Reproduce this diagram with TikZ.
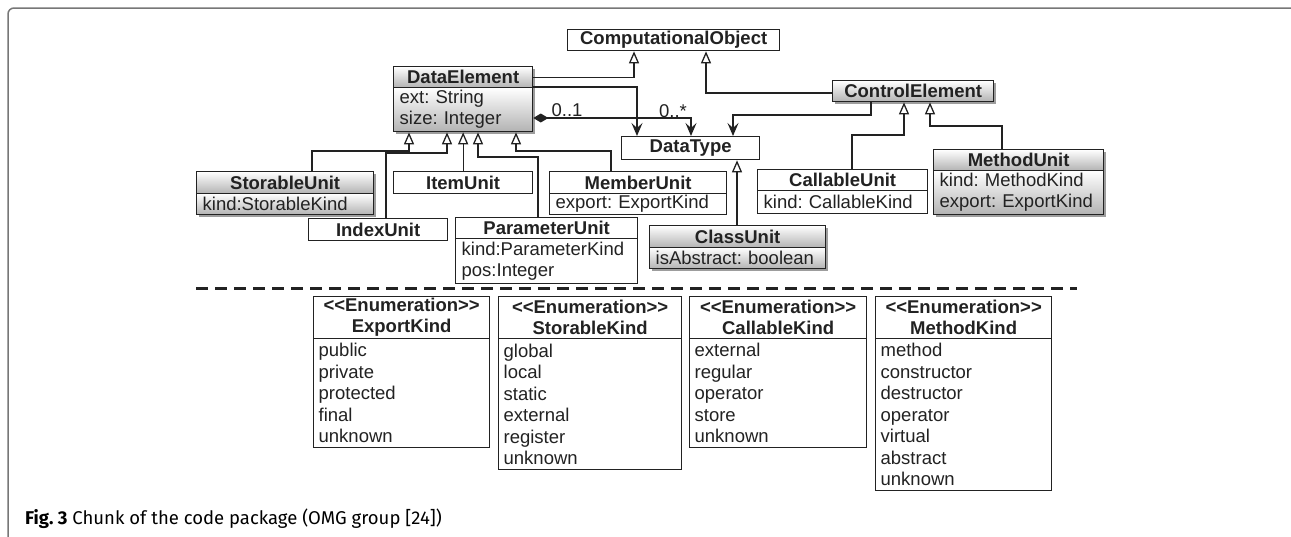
\documentclass[tikz,border=0pt]{standalone}
\usepackage{fontspec}
\setmainfont{Liberation Sans}
\newfontfamily\capfont{Fira Sans}
\usetikzlibrary{arrows.meta,shadows}
\definecolor{ln}{HTML}{222222}
\definecolor{frame}{HTML}{777777}
\frenchspacing
\begin{document}
\frenchspacing
\begin{tikzpicture}[x=1pt,y=-1pt,
  box/.style={draw=ln, line width=1.3pt, inner sep=0pt, anchor=north west, text=ln, fill=white},
  hd/.style={box, font=\bfseries\fontsize{18.5}{21}\selectfont, align=center},
  bd/.style={box, font=\fontsize{18.5}{21}\selectfont, align=left, inner xsep=6pt},
  en/.style={box, font=\fontsize{18.5}{21.5}\selectfont, align=left, inner xsep=5pt},
  grad/.style={top color=white, bottom color=black!30,
    drop shadow={shadow xshift=2pt, shadow yshift=-2pt, opacity=0.55, fill=black!70}},
  conn/.style={draw=ln, line width=1.3pt},
  inh/.style={conn, -{Triangle[open, length=12pt, width=10pt]}},
  assoc/.style={conn, -{Stealth[length=13pt, width=11pt, inset=5pt]}},
  comp/.style={conn, {Diamond[length=15pt, width=9pt]}-{Stealth[length=13pt, width=11pt, inset=5pt]}},
  mult/.style={text=ln, font=\fontsize{18.5}{21}\selectfont, inner sep=0pt},
  sep/.style={draw=ln, line width=3pt, dash pattern=on 12pt off 7pt}
]
\useasboundingbox (0,0) rectangle (1291,536);
% frame
\coordinate (f1) at (8,537);
\coordinate (f2) at (8,8);
\coordinate (f3) at (1291,8);
\draw[frame, line width=1.5pt, rounded corners=6pt] (f1) -- (f2) -- (f3);

% top classes
\node[hd, minimum width=212pt, minimum height=21pt] (co) at (567,29) {ComputationalObject};
\node[hd, grad, minimum width=139pt, minimum height=21pt] (de) at (393,66) {DataElement};
\node[bd, grad, text width=127pt, minimum height=44pt] (deb) at (393,87) {ext: String\\size: Integer};
\node[hd, grad, minimum width=161pt, minimum height=21pt] (ce) at (832,80) {ControlElement};
\node[hd, minimum width=138pt, minimum height=23pt] (dt) at (621,136) {DataType};

% sub classes
\node[hd, grad, minimum width=177pt, minimum height=22pt] (su) at (196,171) {StorableUnit};
\node[bd, grad, text width=165pt, minimum height=21pt] (sub) at (196,193) {kind:StorableKind};
\node[hd, minimum width=139pt, minimum height=22pt] (item) at (393,171) {ItemUnit};
\node[hd, minimum width=177pt, minimum height=22pt] (mu) at (549,171) {MemberUnit};
\node[bd, text width=165pt, minimum height=21pt] (mub) at (549,193) {export: ExportKind};
\node[hd, minimum width=170pt, minimum height=21pt] (cu) at (757,169) {CallableUnit};
\node[bd, text width=158pt, minimum height=23pt] (cub) at (757,190) {kind: CallableKind};
\node[hd, grad, minimum width=170pt, minimum height=21pt] (mtu) at (933,149) {MethodUnit};
\node[bd, grad, text width=158pt, minimum height=44pt] (mtub) at (933,170) {kind: MethodKind\\export: ExportKind};
\node[hd, minimum width=139pt, minimum height=22pt] (iu) at (308,218) {IndexUnit};
\node[hd, minimum width=182pt, minimum height=21pt] (pu) at (455,217) {ParameterUnit};
\node[bd, text width=170pt, minimum height=45pt] (pub) at (455,238) {kind:ParameterKind\\pos:Integer};
\node[hd, grad, minimum width=176pt, minimum height=22pt] (clu) at (649,225) {ClassUnit};
\node[bd, grad, text width=164pt, minimum height=21pt] (club) at (649,247) {isAbstract: boolean};

% connectors
\draw[inh] (de.east) -| (634,0 |- co.south);
\draw[inh] (ce.west |- 0,93) -| (706,0 |- co.south);
\draw[assoc] (deb.north east) -| (637,0 |- dt.north);
\draw[comp] (deb.east |- 0,118) -| (691,0 |- dt.north);
\draw[assoc] (871,0 |- ce.south) |- (733,115) -- (733,0 |- dt.north);
\node[mult] (m1) at (567,110) {0..1};
\node[mult] (m2) at (673,111) {0..*};

\draw[inh] (312,0 |- su.north) |- (409,151) -- (409,0 |- deb.south);
\draw[inh] (386,0 |- iu.north) |- (447,153) -- (447,0 |- deb.south);
\draw[inh] (item.north) -- (item.north |- deb.south);
\draw[inh] (538,0 |- pu.north) |- (478,157) -- (478,0 |- deb.south);
\draw[inh] (611,0 |- mu.north) |- (516,151) -- (516,0 |- deb.south);
\draw[inh] (737,0 |- clu.north) -- (737,0 |- dt.south);
\draw[inh] (852,0 |- cu.north) |- (904,135) -- (904,0 |- ce.south);
\draw[inh] (1002,0 |- mtu.north) |- (930,126) -- (930,0 |- ce.south);

% separator
\coordinate (s1) at (196,288);
\coordinate (s2) at (1077,288);
\draw[sep] (s1) -- (s2);

% enumerations
\node[hd, minimum width=176pt, minimum height=42pt] (ek) at (313,296) {<\kern0pt<Enumeration>\kern0pt>\\ExportKind};
\node[en, text width=166pt, minimum height=109pt] (ekb) at (313,338) {public\\private\\protected\\final\\unknown};
\node[hd, minimum width=183pt, minimum height=42pt] (sk) at (498,296) {<\kern0pt<Enumeration>\kern0pt>\\StorableKind};
\node[en, text width=173pt, minimum height=131pt] (skb) at (498,338) {global\\local\\static\\external\\register\\unknown};
\node[hd, minimum width=177pt, minimum height=42pt] (ck) at (689,296) {<\kern0pt<Enumeration>\kern0pt>\\CallableKind};
\node[en, text width=167pt, minimum height=109pt] (ckb) at (689,338) {external\\regular\\operator\\store\\unknown};
\node[hd, minimum width=176pt, minimum height=42pt] (mk) at (875,296) {<\kern0pt<Enumeration>\kern0pt>\\MethodKind};
\node[en, text width=166pt, minimum height=152pt] (mkb) at (875,338) {method\\constructor\\destructor\\operator\\virtual\\abstract\\unknown};

% caption
\node[anchor=base west, inner sep=0pt, text=black] (cap) at (25,524) {\capfont\fontsize{18.5}{21}\selectfont\textbf{Fig. 3} Chunk of the code package (OMG group [24])};
\end{tikzpicture}
\end{document}
